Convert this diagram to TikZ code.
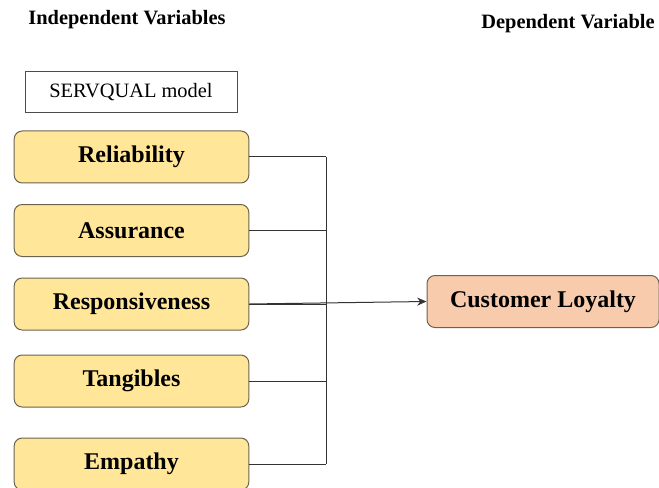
\documentclass[tikz,border=0pt]{standalone}
\usepackage{fontspec}
\setmainfont{Liberation Serif}
\usetikzlibrary{arrows.meta}

\definecolor{goldfill}{HTML}{FFE699}
\definecolor{peachfill}{HTML}{F8CBAD}
\definecolor{boxline}{HTML}{6B6350}

\begin{document}
\begin{tikzpicture}[x=0.75pt,y=-0.75pt,>={Stealth[length=7pt,width=6pt]},
  var/.style={draw=boxline,line width=0.75pt,rounded corners=6pt,fill=goldfill,
    minimum width=176pt,minimum height=39pt,inner sep=0pt,
    font=\fontsize{18}{20}\selectfont\bfseries},
  title/.style={inner sep=0pt,font=\fontsize{15.3}{17}\selectfont\bfseries},
  link/.style={draw=black!80,line width=0.75pt}]
  \useasboundingbox (0,0) rectangle (659,488);

  \node[title] (indep) at (127,20) {Independent Variables};
  \node[title] (dep) at (568,24) {Dependent Variable};

  \node[draw=black!70,line width=0.75pt,minimum width=159pt,minimum height=30.75pt,
    inner sep=0pt,font=\fontsize{15.3}{17}\selectfont] (model) at (131,92.5) {SERVQUAL model};

  \node[var] (rel) at (131.5,157) {Reliability};
  \node[var] (ass) at (131.5,230.5) {Assurance};
  \node[var] (resp) at (131.5,304) {Responsiveness};
  \node[var] (tang) at (131.5,381) {Tangibles};
  \node[var] (emp) at (131.5,464) {Empathy};

  \node[var,fill=peachfill,minimum width=174pt] (loyal) at (543,301.5) {Customer Loyalty};

  % bus joining the five dimensions
  \coordinate (bus) at (326,0);
  \foreach \n in {rel,ass,resp,tang,emp}
    \draw[link] (\n.east) -- (\n.east -| bus);
  \draw[link] (rel.east -| bus) -- (emp.east -| bus);

  \draw[link,->] (resp.east) -- (loyal.west);
\end{tikzpicture}
\end{document}
